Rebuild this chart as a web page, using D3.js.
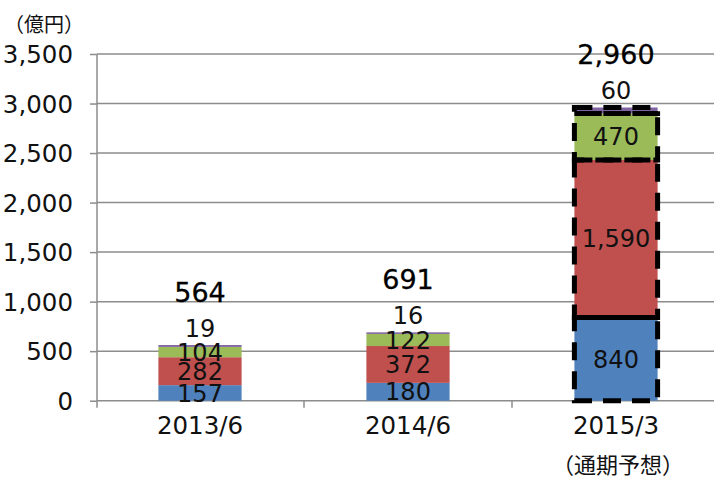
<!DOCTYPE html>
<html>
<head>
<meta charset="utf-8">
<script src="https://cdn.jsdelivr.net/npm/d3@7"></script>
<style>
  html, body { margin: 0; padding: 0; background: #fff; }
  svg { display: block; }
</style>
</head>
<body>
<svg id="chart" width="714" height="480"></svg>
<script>
// ---- data ----
const categories = ["2013/6", "2014/6", "2015/3"];
const seriesBlue   = [157, 180, 840];
const seriesRed    = [282, 372, 1590];
const seriesGreen  = [104, 122, 470];
const seriesPurple = [19, 16, 60];
const totals       = [564, 691, 2960];
const forecast     = [false, false, true];
const yTicks       = [0, 500, 1000, 1500, 2000, 2500, 3000, 3500];
const unitLabel    = "（億円）";
const forecastNote = "（通期予想）";

(function () {
// ---- styles ----
const colors = ["#4F81BD", "#C0504D", "#9BBB59", "#8064A2"];
const gridColor = "#8c8c8c";
const numFont = "'DejaVu Sans', sans-serif";
const jpFont = "'Noto Sans CJK JP', sans-serif";

const svg = d3.select("#chart");
const mLeft = 97, mTop = 54, mBottom = 400.7;

const y = d3.scaleLinear().domain([0, 3500]).range([mBottom, mTop]);
const xOuter = d3.scaleBand().domain(categories).range([96, 720]).padding(0);
const x = d3.scaleBand().domain(categories).range([96, 720]).paddingInner(0.6).paddingOuter(0.3);

// gridlines
svg.append("g").selectAll("line").data(yTicks.filter(d => d > 0)).join("line")
  .attr("x1", mLeft).attr("x2", 714)
  .attr("y1", d => y(d)).attr("y2", d => y(d))
  .attr("stroke", gridColor).attr("stroke-width", 1.5);

// y axis
const yAxis = d3.axisLeft(y).tickValues(yTicks).tickFormat(d3.format(",")).tickSize(7).tickPadding(17);
const gy = svg.append("g").attr("transform", `translate(${mLeft},0)`).call(yAxis);
gy.select(".domain").remove();
gy.selectAll(".tick line").attr("stroke", gridColor).attr("stroke-width", 1.5);
gy.selectAll(".tick text").attr("font-family", numFont).attr("font-size", 24.5).attr("fill", "#111").attr("dy", "0.36em");
svg.append("line").attr("x1", mLeft).attr("x2", mLeft).attr("y1", mTop).attr("y2", mBottom + 7)
  .attr("stroke", gridColor).attr("stroke-width", 1.5);

// x axis line + ticks at category boundaries
svg.append("line").attr("x1", mLeft).attr("x2", 714).attr("y1", mBottom).attr("y2", mBottom)
  .attr("stroke", gridColor).attr("stroke-width", 1.5);
svg.append("g").selectAll("line").data(categories.slice(1)).join("line")
  .attr("x1", d => xOuter(d)).attr("x2", d => xOuter(d))
  .attr("y1", mBottom).attr("y2", mBottom + 7)
  .attr("stroke", gridColor).attr("stroke-width", 1.5);

// category labels
svg.append("g").selectAll("text").data(categories).join("text")
  .attr("x", d => x(d) + x.bandwidth() / 2).attr("y", 434)
  .attr("text-anchor", "middle").attr("font-family", numFont).attr("font-size", 24.5).attr("fill", "#111")
  .text(d => d);

// stacked data
const series = [seriesBlue, seriesRed, seriesGreen, seriesPurple];
const rows = categories.map((c, i) => ({ cat: c, s0: series[0][i], s1: series[1][i], s2: series[2][i], s3: series[3][i] }));
const stacked = d3.stack().keys(["s0", "s1", "s2", "s3"])(rows);

const barG = svg.append("g");
stacked.forEach((layer, li) => {
  barG.append("g").selectAll("rect").data(layer).join("rect")
    .attr("x", d => x(d.data.cat)).attr("width", x.bandwidth())
    .attr("y", d => y(d[1])).attr("height", d => y(d[0]) - y(d[1]))
    .attr("fill", colors[li]);
});
// dashed borders for forecast bar
stacked.forEach((layer) => {
  barG.append("g").selectAll("rect").data(layer.filter((d, i) => forecast[i])).join("rect")
    .attr("x", d => x(d.data.cat)).attr("width", x.bandwidth())
    .attr("y", d => y(d[1])).attr("height", d => y(d[0]) - y(d[1]))
    .attr("fill", "none").attr("stroke", "#000").attr("stroke-width", 5)
    .attr("stroke-dasharray", "18,11");
});

// segment labels (first three series centered)
stacked.slice(0, 3).forEach((layer) => {
  svg.append("g").selectAll("text").data(layer).join("text")
    .attr("x", d => x(d.data.cat) + x.bandwidth() / 2)
    .attr("y", d => y((d[0] + d[1]) / 2))
    .attr("dy", "0.36em")
    .attr("text-anchor", "middle").attr("font-family", numFont).attr("font-size", 24).attr("fill", "#111")
    .text(d => d3.format(",")(d[1] - d[0]));
});
// small top series labels above bars
const topLayer = stacked[3];
svg.append("g").selectAll("text").data(topLayer).join("text")
  .attr("x", d => x(d.data.cat) + x.bandwidth() / 2)
  .attr("y", d => y(d[1]) - 8)
  .attr("text-anchor", "middle").attr("font-family", numFont).attr("font-size", 24).attr("fill", "#111")
  .text(d => d3.format(",")(d[1] - d[0]));
// totals
svg.append("g").selectAll("text").data(topLayer).join("text")
  .attr("x", d => x(d.data.cat) + x.bandwidth() / 2)
  .attr("y", d => y(d[1]) - 43)
  .attr("text-anchor", "middle").attr("font-family", numFont).attr("font-size", 27).attr("fill", "#000")
  .attr("stroke", "#000").attr("stroke-width", 0.3)
  .text((d, i) => d3.format(",")(totals[i]));

// unit label & forecast note
svg.append("text").attr("x", 4).attr("y", 32).attr("font-family", jpFont).attr("font-size", 20).attr("fill", "#111").text(unitLabel);
svg.append("text").attr("x", 552).attr("y", 473).attr("font-family", jpFont).attr("font-size", 22).attr("fill", "#111").text(forecastNote);
})();
</script>
</body>
</html>
